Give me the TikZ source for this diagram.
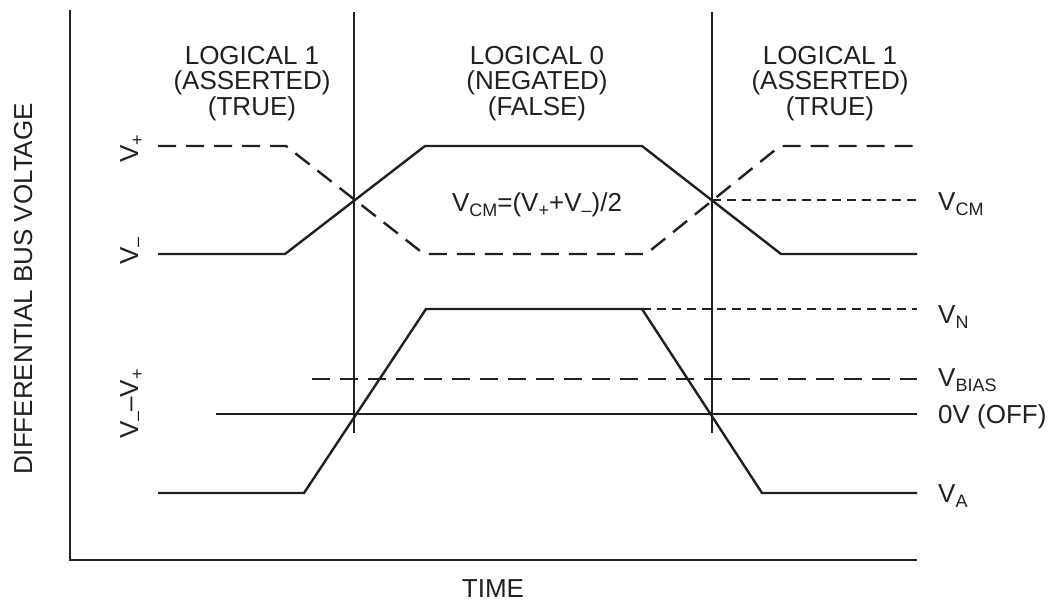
\documentclass[tikz,border=0pt]{standalone}
\usepackage{fontspec}
\setmainfont{Liberation Sans}
\definecolor{ink}{RGB}{35,31,32}
\newcommand\lsub[1]{\raisebox{-5pt}{\fontsize{18}{18}\selectfont #1}}
\begin{document}
\begin{tikzpicture}[x=1pt,y=-1pt,
  wave/.style={line width=2.4pt, draw=ink, line join=miter},
  longdash/.style={wave, dash pattern=on 18pt off 10pt},
  shortdash/.style={wave, dash pattern=on 9pt off 6pt},
  lbl/.style={inner sep=0pt, text=ink, font=\fontsize{26}{25.5}\selectfont},
  rlbl/.style={lbl, anchor=base west},
  vlbl/.style={lbl, rotate=90, anchor=base},
  state/.style={lbl, anchor=north, align=center},
]
\useasboundingbox (0,0) rectangle (1050,602);
% axes
\coordinate (ytop) at (70,10);
\coordinate (org) at (70,560);
\coordinate (xend) at (917,560);
\draw[wave] (ytop) -- (org) -- (xend);
% boundary lines
\coordinate (b1t) at (354,12); \coordinate (b1b) at (354,433);
\coordinate (b2t) at (712,12); \coordinate (b2b) at (712,433);
\draw[wave] (b1t) -- (b1b);
\draw[wave] (b2t) -- (b2b);
% top: V- solid
\coordinate (m0) at (158,254); \coordinate (m1) at (285,254);
\coordinate (m2) at (425,146); \coordinate (m3) at (642,146);
\coordinate (m4) at (781,254); \coordinate (m5) at (917,254);
\draw[wave] (m0) -- (m1) -- (m2) -- (m3) -- (m4) -- (m5);
% top: V+ dashed
\coordinate (p0) at (158,146); \coordinate (p1) at (286,146);
\coordinate (p2) at (424,254); \coordinate (p3) at (646,254);
\coordinate (p4) at (780,146); \coordinate (p5) at (917,146);
\draw[longdash] (p0) -- (p1) -- (p2) -- (p3) -- (p4) -- (p5);
% VCM
\coordinate (c0) at (712,200); \coordinate (c1) at (917,200);
\draw[shortdash] (c0) -- (c1);
% bottom: differential
\coordinate (d0) at (158,493); \coordinate (d1) at (304,493);
\coordinate (d2) at (426,309); \coordinate (d3) at (642,309);
\coordinate (d4) at (762,493); \coordinate (d5) at (917,493);
\draw[wave] (d0) -- (d1) -- (d2) -- (d3) -- (d4) -- (d5);
\coordinate (n1) at (917,309);
\draw[shortdash] (d3) -- (n1);
\coordinate (bi0) at (312,379); \coordinate (bi1) at (917,379);
\draw[longdash] (bi0) -- (bi1);
\coordinate (z0) at (216,414); \coordinate (z1) at (917,414);
\draw[wave] (z0) -- (z1);
% state labels
\node[state] (s1) at (252,46) {LOGICAL 1\\(ASSERTED)\\(TRUE)};
\node[state] (s0) at (537,46) {LOGICAL 0\\(NEGATED)\\(FALSE)};
\node[state] (s2) at (830,46) {LOGICAL 1\\(ASSERTED)\\(TRUE)};
\node[lbl, anchor=base] (vcmeq) at (537,211) {V\lsub{CM}=(V\lsub{+}+V\lsub{–})/2};
% right labels
\node[rlbl] (lvcm) at (938,210) {V\lsub{CM}};
\node[rlbl] (lvn) at (938,323) {V\lsub{N}};
\node[rlbl] (lvb) at (938,386) {V\lsub{BIAS}};
\node[rlbl] (lz) at (938,423) {0V (OFF)};
\node[rlbl] (lva) at (938,502) {V\lsub{A}};
% left labels
\node[vlbl] (lvp) at (138,149) {V\lsub{+}};
\node[vlbl] (lvm) at (138,251) {V\lsub{–}};
\node[vlbl] (lvd) at (138,404) {V\lsub{–}–V\lsub{+}};
\node[vlbl] (yl) at (32,289) {DIFFERENTIAL BUS VOLTAGE};
\node[lbl, anchor=base] (xl) at (493,597) {TIME};
\end{tikzpicture}
\end{document}
